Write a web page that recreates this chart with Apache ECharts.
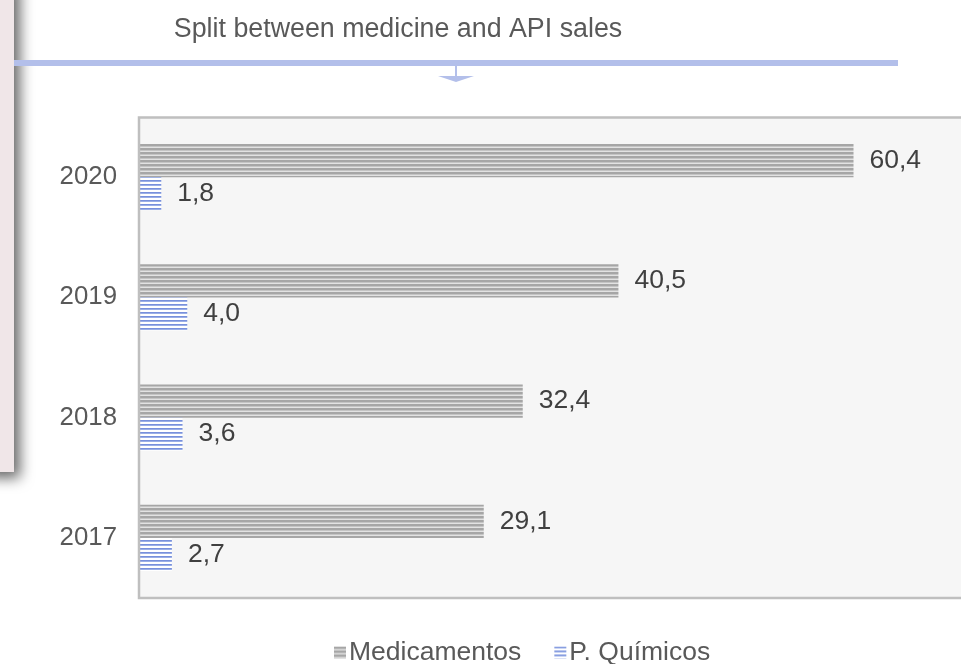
<!DOCTYPE html>
<html>
<head>
<meta charset="utf-8">
<script src="https://cdn.jsdelivr.net/npm/echarts@6/dist/echarts.min.js"></script>
<style>html,body{margin:0;padding:0;background:#fff;}#c{width:961px;height:664px;}</style>
</head>
<body>
<div id="c"></div>
<script>
var categories = ['2017', '2018', '2019', '2020'];
var medicamentos = [29.1, 32.4, 40.5, 60.4];
var quimicos = [2.7, 3.6, 4.0, 1.8];
var seriesNames = ['Medicamentos', 'P. Químicos'];
var titleText = 'Split between medicine and API sales';

function stripe(rows) {
  var c = document.createElement('canvas');
  c.width = 4; c.height = rows.length;
  var ctx = c.getContext('2d');
  rows.forEach(function (col, i) { ctx.fillStyle = col; ctx.fillRect(0, i, 4, 1); });
  return c;
}
var greyPat = { image: stripe(['#a6a6a6', '#a6a6a6', '#c4c4c4', '#e2e2e2']), repeat: 'repeat' };
var bluePat = { image: stripe(['#7890dc', '#9aaee6', '#ffffff', '#ffffff']), repeat: 'repeat' };

function fmt(p) { return String(p.value.toFixed(1)).replace('.', ','); }

var chart = echarts.init(document.getElementById('c'), null, { renderer: 'canvas' });
var FONT = 'Liberation Sans, Arial, sans-serif';
var FS = 26.5;
chart.setOption({
  animation: false,
  title: {
    text: titleText, left: 393, top: 11, textAlign: 'center',
    textStyle: { color: '#595959', fontSize: 26.8, fontWeight: 'normal', fontFamily: FONT }
  },
  legend: {
    bottom: -7, left: 329, itemWidth: 12, itemHeight: 12, itemGap: 33, icon: 'rect',
    textStyle: { color: '#595959', fontSize: 26.5, fontFamily: FONT, padding: [0, 0, 0, -2] },
    data: seriesNames
  },
  grid: {
    left: 140, right: 0, top: 117, bottom: 66, show: false
  },
  xAxis: { type: 'value', min: 0, max: 69.5, show: false, splitLine: { show: false } },
  yAxis: {
    type: 'category', data: categories,
    axisLine: { show: false }, axisTick: { show: false },
    axisLabel: { color: '#595959', fontSize: 25.8, fontFamily: FONT, margin: 23 }
  },
  series: [
    {
      name: seriesNames[0], type: 'bar', data: medicamentos, barGap: '0%', barCategoryGap: '45%',
      itemStyle: { color: greyPat },
      label: { show: true, position: 'right', distance: 16, color: '#404040', fontSize: FS, fontFamily: FONT, formatter: fmt }
    },
    {
      name: seriesNames[1], type: 'bar', data: quimicos, barGap: '0%', barCategoryGap: '45%',
      itemStyle: { color: bluePat },
      label: { show: true, position: 'right', distance: 16, color: '#404040', fontSize: FS, fontFamily: FONT, formatter: fmt }
    }
  ],
  graphic: [
    { type: 'rect', shape: { x: 139, y: 117, width: 860, height: 481 }, style: { fill: '#f6f6f6' }, z: -10 },
    { type: 'rect', shape: { x: -20, y: -20, width: 34, height: 492 },
      style: { fill: '#f0e6e8', shadowBlur: 14, shadowOffsetX: 6, shadowOffsetY: 6, shadowColor: 'rgba(0,0,0,0.6)' }, z: 10 },
    { type: 'rect', shape: { x: 14, y: 60, width: 884, height: 6 }, style: { fill: '#b3bfea' }, z: 11 },
    { type: 'rect', shape: { x: 455, y: 66, width: 2, height: 10 }, style: { fill: '#b3bfea' }, z: 11 },
    { type: 'polygon', shape: { points: [[438, 76], [474, 76], [456, 82]] }, style: { fill: '#b3bfea' }, z: 11 },
    { type: 'polyline', shape: { points: [[990, 117.5], [139, 117.5], [139, 598], [990, 598]] },
      style: { stroke: '#bfbfbf', lineWidth: 2.5, fill: null }, z: 5 }
  ]
});
</script>
</body>
</html>
